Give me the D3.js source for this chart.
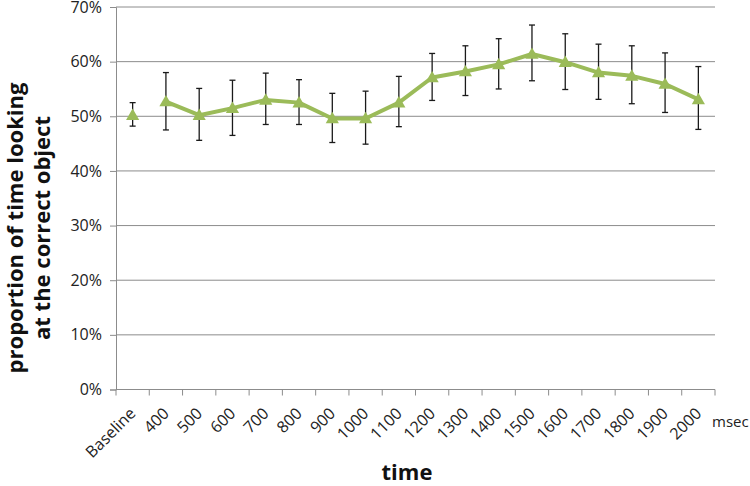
<!DOCTYPE html>
<html>
<head>
<meta charset="utf-8">
<script src="https://cdn.jsdelivr.net/npm/d3@7"></script>
<style>
  body { margin: 0; background: #fff; }
  svg { display: block; font-family: "Open Sans", sans-serif; }
</style>
</head>
<body>
<div id="chart"></div>
<script>
// categories on the time axis
const categories = ["Baseline", "400", "500", "600", "700", "800", "900", "1000", "1100",
    "1200", "1300", "1400", "1500", "1600", "1700", "1800", "1900", "2000"];
// proportion of time looking at the correct object
const means = [0.502, 0.527, 0.502, 0.515, 0.530, 0.525, 0.496, 0.496, 0.525,
    0.571, 0.582, 0.595, 0.614, 0.599, 0.580, 0.574, 0.559, 0.531];
// error bar ends
const upper = [0.525, 0.580, 0.551, 0.566, 0.579, 0.567, 0.542, 0.546, 0.573,
    0.615, 0.629, 0.642, 0.667, 0.651, 0.632, 0.629, 0.616, 0.591];
const lower = [0.482, 0.475, 0.456, 0.465, 0.485, 0.485, 0.452, 0.449, 0.481,
    0.529, 0.538, 0.550, 0.565, 0.549, 0.531, 0.523, 0.507, 0.476];
const yTicks = [0, 0.1, 0.2, 0.3, 0.4, 0.5, 0.6, 0.7];

const data = categories.map((c, i) => ({ cat: c, v: means[i], hi: upper[i], lo: lower[i] }));

const W = 750, H = 486;
const margin = { top: 7, right: 35, bottom: 96.5, left: 116 };
const width = W - margin.left - margin.right,
      height = H - margin.top - margin.bottom;

const svg = d3.select("#chart").append("svg")
    .attr("width", W)
    .attr("height", H);

const g = svg.append("g")
    .attr("transform", `translate(${margin.left},${margin.top})`);

const x = d3.scaleBand()
    .domain(categories)
    .range([0, width]);

const y = d3.scaleLinear()
    .domain([0, 0.7])
    .range([height, 0]);

// gridlines
g.append("g")
    .selectAll("line")
    .data(yTicks.filter(t => t > 0))
    .enter()
    .append("line")
      .attr("x1", 0)
      .attr("x2", width)
      .attr("y1", d => y(d))
      .attr("y2", d => y(d))
      .attr("stroke", "#8c8c8c")
      .attr("stroke-width", 1);

// Y axis
const yAxis = g.append("g")
    .call(d3.axisLeft(y).tickValues(yTicks).tickFormat(d3.format(".0%")).tickSize(6).tickPadding(8));
yAxis.select(".domain").attr("stroke", "#8c8c8c");
yAxis.selectAll(".tick line").attr("stroke", "#8c8c8c");
yAxis.selectAll("text")
    .attr("fill", "#222")
    .style("font-size", "16px")
    .style("font-family", "Open Sans");

// X axis, ticks between categories
const xAxis = g.append("g").attr("transform", `translate(0,${height})`);
xAxis.append("line")
    .attr("x1", 0).attr("x2", width)
    .attr("stroke", "#8c8c8c");
xAxis.selectAll(".tk")
    .data(categories.concat(["end"]))
    .enter()
    .append("line")
      .attr("class", "tk")
      .attr("x1", (d, i) => i < categories.length ? x(d) : width)
      .attr("x2", (d, i) => i < categories.length ? x(d) : width)
      .attr("y1", 0)
      .attr("y2", 6)
      .attr("stroke", "#8c8c8c");
xAxis.selectAll(".lbl")
    .data(categories)
    .enter()
    .append("text")
      .attr("class", "lbl")
      .attr("transform", d => `translate(${x(d) + x.bandwidth() / 2 + 4},${25}) rotate(-45)`)
      .attr("text-anchor", "end")
      .style("font-size", "16px")
      .attr("fill", "#222")
      .text(d => d);

svg.append("text")
    .attr("x", 712)
    .attr("y", 427)
    .style("font-size", "15px")
    .attr("fill", "#222")
    .text("msec");

const cx = d => x(d.cat) + x.bandwidth() / 2;

// error bars
const eb = g.append("g").attr("stroke", "#1a1a1a").attr("stroke-width", 1.3);
eb.selectAll(".v").data(data).enter().append("line")
    .attr("x1", cx).attr("x2", cx)
    .attr("y1", d => y(d.hi)).attr("y2", d => y(d.lo));
eb.selectAll(".t").data(data).enter().append("line")
    .attr("x1", d => cx(d) - 3).attr("x2", d => cx(d) + 3)
    .attr("y1", d => y(d.hi)).attr("y2", d => y(d.hi));
eb.selectAll(".b").data(data).enter().append("line")
    .attr("x1", d => cx(d) - 3).attr("x2", d => cx(d) + 3)
    .attr("y1", d => y(d.lo)).attr("y2", d => y(d.lo));

// line (Baseline point stands alone)
const line = d3.line()
    .x(cx)
    .y(d => y(d.v));
g.append("path")
    .datum(data.slice(1))
    .attr("fill", "none")
    .attr("stroke", "#9bbb59")
    .attr("stroke-width", 4)
    .attr("stroke-linejoin", "round")
    .attr("d", line);

// triangle markers
g.append("g")
    .selectAll("path")
    .data(data)
    .enter()
    .append("path")
      .attr("d", d3.symbol().type(d3.symbolTriangle).size(75))
      .attr("transform", d => `translate(${cx(d)},${y(d.v) + 1})`)
      .attr("fill", "#9bbb59");

// axis titles
svg.append("text")
    .attr("transform", "translate(23,228) rotate(-90)")
    .attr("text-anchor", "middle")
    .style("font-size", "22px")
    .style("font-weight", "bold")
    .attr("fill", "#111")
    .text("proportion of time looking");
svg.append("text")
    .attr("transform", "translate(50,228) rotate(-90)")
    .attr("text-anchor", "middle")
    .style("font-size", "22px")
    .style("font-weight", "bold")
    .attr("fill", "#111")
    .text("at the correct object");

svg.append("text")
    .attr("x", 407)
    .attr("y", 480)
    .attr("text-anchor", "middle")
    .style("font-size", "22px")
    .style("font-weight", "bold")
    .attr("fill", "#111")
    .text("time");
</script>
</body>
</html>
